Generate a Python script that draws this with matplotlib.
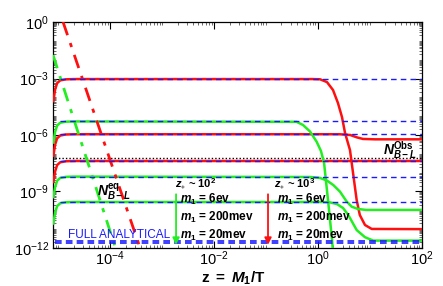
import numpy as np
import matplotlib
matplotlib.use('Agg')
import matplotlib.pyplot as plt
from matplotlib.ticker import LogLocator, FixedLocator, NullFormatter, FuncFormatter

plt.rcParams['font.family'] = ['Liberation Sans', 'DejaVu Sans']
plt.rcParams['mathtext.fontset'] = 'custom'
plt.rcParams['mathtext.rm'] = 'Liberation Sans'
plt.rcParams['mathtext.it'] = 'Liberation Sans:italic'
plt.rcParams['mathtext.bf'] = 'Liberation Sans:bold'
plt.rcParams['mathtext.bfit'] = 'Liberation Sans:bold:italic'

RED = '#ff1010'
GREEN = '#22ee22'
BLUE = '#1a1aff'

# --- data (z, log10 N) ---
# red curves
r1_z = [8.15e-6, 8.8e-6, 9.6e-6, 1.1e-5, 1.4e-5, 2e-5, 0.8, 1.1, 1.5, 1.96, 2.44, 2.92, 3.34, 4.16, 5.59, 6.43, 8.09, 10.9, 100]
r1_logn = [-4.2, -3.58, -3.25, -3.10, -3.045, -3.03, -3.03, -3.04, -3.19, -3.61, -4.30, -5.05, -5.89, -6.80, -9.45, -10.25, -10.78, -10.99, -11.0]

r2_z = [8.15e-6, 8.8e-6, 9.6e-6, 1.1e-5, 1.4e-5, 2e-5, 2.6, 4.2, 5.7, 7.4, 12.6, 100]
r2_logn = [-7.1, -6.51, -6.18, -6.03, -5.975, -5.96, -5.96, -6.0, -6.13, -6.21, -6.23, -6.23]

r3_z = [8.15e-6, 8.8e-6, 9.6e-6, 1.1e-5, 1.4e-5, 2e-5, 100]
r3_logn = [-8.5, -7.93, -7.60, -7.45, -7.395, -7.38, -7.38]

# green curves
g1_z = [8.15e-6, 8.8e-6, 9.6e-6, 1.1e-5, 1.4e-5, 2e-5, 0.39, 0.52, 0.71, 0.95, 1.15, 1.32, 1.57, 1.88, 2.0]
g1_logn = [-6.4, -5.83, -5.50, -5.35, -5.295, -5.28, -5.30, -5.47, -5.82, -6.36, -6.85, -7.49, -9.45, -11.58, -12.6]

g2_z = [8.15e-6, 8.8e-6, 9.6e-6, 1.1e-5, 1.4e-5, 2e-5, 0.71, 1.1, 1.5, 1.99, 2.67, 3.6, 4.5, 5.93, 8.5, 100]
g2_logn = [-9.3, -8.76, -8.43, -8.28, -8.225, -8.21, -8.23, -8.28, -8.42, -8.66, -9.01, -9.54, -9.81, -9.93, -9.98, -9.98]

g3_z = [8.15e-6, 8.8e-6, 9.6e-6, 1.1e-5, 1.4e-5, 2e-5, 1.2, 1.72, 2.34, 3.06, 3.86, 5.6, 8.1, 11.7, 100]
g3_logn = [-10.7, -10.11, -9.78, -9.63, -9.575, -9.56, -9.56, -9.58, -9.67, -9.88, -10.25, -11.05, -11.43, -11.61, -11.61]

# analytical plateaus (blue dashed) and observed value
analytic_levels = [-3.03, -5.28, -5.96, -7.38, -8.21, -9.56]
full_analytic_levels = [-11.62, -11.73]
obs_level = -7.22

# equilibrium abundances (dash-dot)
eq_red_z = [1.25e-5, 3.8e-4]
eq_red_logn = [0.0, -12.0]
eq_green_z = [8.0e-6, 1.26e-4]
eq_green_logn = [-1.75, -11.95]

# arrows z_*
arrow_z = [1.87e-3, 0.11]
arrow_colors = [GREEN, RED]

fig = plt.figure(figsize=(4.43, 2.86), dpi=100)
ax = fig.add_axes([0.1196, 0.133, 0.8324, 0.790])

def pw(v):
    return [10.0 ** x for x in v]

for lv in analytic_levels:
    ax.plot([1.1e-5, 100], pw([lv, lv]), color=BLUE, lw=1.0, ls=(0, (4, 3)), zorder=4)
for lv in full_analytic_levels:
    ax.plot([8.6e-6, 100], pw([lv, lv]), color=BLUE, lw=1.2, ls=(0, (4, 2.5)), zorder=4)
ax.plot([8.6e-6, 100], pw([obs_level, obs_level]), color='black', lw=1.0, ls=(0, (1, 1.5)), zorder=2)

for z, n in [(r1_z, r1_logn), (r2_z, r2_logn), (r3_z, r3_logn)]:
    ax.plot(z, pw(n), color=RED, lw=1.8, zorder=3)
for z, n in [(g1_z, g1_logn), (g2_z, g2_logn), (g3_z, g3_logn)]:
    ax.plot(z, pw(n), color=GREEN, lw=1.8, zorder=3)

ax.plot(eq_red_z, pw(eq_red_logn), color=RED, lw=2.0, ls=(0, (5, 3, 1.5, 3)), zorder=3)
ax.plot(eq_green_z, pw(eq_green_logn), color=GREEN, lw=2.0, ls=(0, (5, 3, 1.5, 3)), zorder=3)

for zc, c in zip(arrow_z, arrow_colors):
    ax.annotate('', xy=(zc, 1.05e-12), xytext=(zc, 1.0e-9),
                arrowprops=dict(arrowstyle='-|>', color=c, lw=1.3, mutation_scale=10), zorder=5)

ax.set_xscale('log')
ax.set_yscale('log')
ax.set_xlim(8e-6, 100)
ax.set_ylim(1e-12, 1)

ax.xaxis.set_major_locator(FixedLocator([1e-4, 1e-2, 1, 100]))
ax.xaxis.set_minor_locator(LogLocator(base=10, subs=np.arange(1, 10), numticks=100))
ax.yaxis.set_major_locator(FixedLocator([1e-12, 1e-9, 1e-6, 1e-3, 1]))
ax.yaxis.set_minor_locator(LogLocator(base=10, subs=np.arange(1, 10), numticks=100))
fmt = FuncFormatter(lambda v, p: r'$\mathregular{10^{%d}}$' % round(np.log10(v)))
ax.xaxis.set_major_formatter(fmt)
ax.yaxis.set_major_formatter(fmt)
ax.xaxis.set_minor_formatter(NullFormatter())
ax.yaxis.set_minor_formatter(NullFormatter())
ax.tick_params(which='both', direction='in', top=True, right=True, labelsize=10.5)
ax.tick_params(axis='x', pad=1)
ax.tick_params(axis='y', pad=3)
ax.tick_params(which='major', length=5, width=0.8)
ax.tick_params(which='minor', length=2.5, width=0.6, color='#555555')
for s in ax.spines.values():
    s.set_linewidth(0.9)

# x label placed by hand so the subscript stays inside the canvas
fig.text(0.527, 0.027, r'$\mathbf{z\ =\ }\mathbfit{M}_{\mathbf{1}}\mathbf{/T}$', fontsize=11,
         ha='center', va='center')

ax.text(1.55e-5, 10 ** -11.31, 'FULL ANALYTICAL', color=BLUE, fontsize=8.5, va='center', zorder=6)
ax.text(5.6e-5, 10 ** -9.05, r'$\mathbfit{N}_{\mathbfit{B-L}}^{\mathbf{eq}}$', fontsize=10, va='center', zorder=6)
ax.text(18, 10 ** -6.8, r'$\mathbfit{N}_{\mathbfit{B-L}}^{\mathbf{Obs}}$', fontsize=10, va='center', zorder=6)

zs_labels = [r'$\mathbfit{z}_{\ast}$ ~ $\mathbf{10^2}$', r'$\mathbfit{z}_{\ast}$ ~ $\mathbf{10^3}$']
zs_x = [1.78e-3, 0.144]
m_labels = [r'$\mathbfit{m}_{\mathbf{1}}$ = 6ev', r'$\mathbfit{m}_{\mathbf{1}}$ = 200mev', r'$\mathbfit{m}_{\mathbf{1}}$ = 20mev']
m_y = [-9.42, -10.36, -11.36]
m_x = [2.24e-3, 0.164]
for zx, lab in zip(zs_x, zs_labels):
    ax.text(zx, 10 ** -8.62, lab, fontsize=8, fontweight='bold', va='center', zorder=6)
for mx in m_x:
    for lab, my in zip(m_labels, m_y):
        ax.text(mx, 10 ** my, lab, fontsize=8.5, fontweight='bold', va='center', zorder=6)

fig.savefig('out.png', dpi=100)
